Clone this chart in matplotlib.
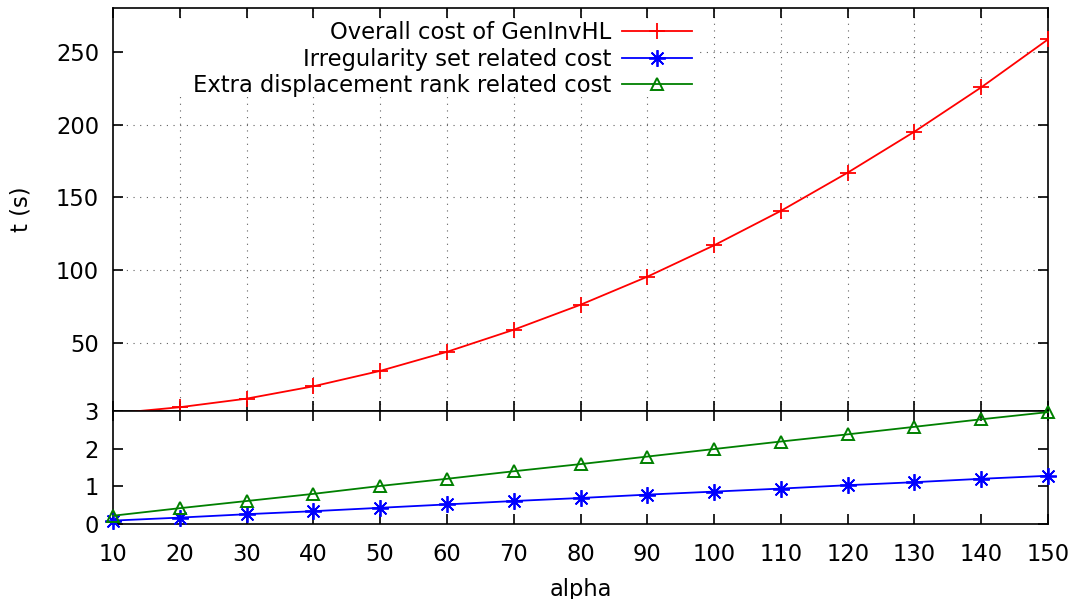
import numpy as np
import matplotlib
matplotlib.use("Agg")
import matplotlib.pyplot as plt
from matplotlib.patches import Rectangle

# data
alpha = [10, 20, 30, 40, 50, 60, 70, 80, 90, 100, 110, 120, 130, 140, 150]
overall = [1.3, 5.6, 11.5, 20.0, 30.6, 43.7, 58.9, 76.1, 95.4, 117.0, 140.7, 167.0, 195.2, 225.7, 258.7]
irregular = [0.09, 0.17, 0.26, 0.34, 0.43, 0.52, 0.61, 0.69, 0.78, 0.86, 0.94, 1.03, 1.11, 1.20, 1.28]
extra = [0.22, 0.42, 0.61, 0.80, 1.01, 1.20, 1.40, 1.59, 1.79, 1.99, 2.19, 2.38, 2.58, 2.78, 2.97]

labels = ["Overall cost of GenInvHL", "Irregularity set related cost",
          "Extra displacement rank related cost"]
xticks = [10, 20, 30, 40, 50, 60, 70, 80, 90, 100, 110, 120, 130, 140, 150]
top_yticks = [3, 50, 100, 150, 200, 250]
bot_yticks = [0, 1, 2]

FS = 16.3
W, H = 1077, 599
plt.rcParams['font.family'] = ['DejaVu Sans']

fig = plt.figure(figsize=(W / 100, H / 100), dpi=100)
left, right, top, brk, bottom = 113, 1048, 8, 411, 524
ax_top = fig.add_axes([left / W, (H - brk) / H, (right - left) / W, (brk - top) / H])
ax_bot = fig.add_axes([left / W, (H - bottom) / H, (right - left) / W, (bottom - brk) / H])

grid_kw = dict(color='#606060', linewidth=0.8, linestyle=(0, (1, 5)))

for ax in (ax_top, ax_bot):
    ax.set_xlim(10, 150)
    ax.set_xticks(xticks)
    ax.tick_params(direction='in', length=7.2, width=1.2, labelsize=FS,
                   top=True, right=True, bottom=True, left=True)
    for s in ax.spines.values():
        s.set_linewidth(1.2)

# top panel
ax_top.set_ylim(3, 280.3)
ax_top.set_yticks(top_yticks)
ax_top.tick_params(axis='x', labelbottom=False)
ax_top.tick_params(axis='y', pad=10)
for x in xticks[1:-1]:
    ax_top.axvline(x, zorder=1, **grid_kw)
for y in top_yticks[1:]:
    ax_top.axhline(y, zorder=1, **grid_kw)

# white box behind the legend hides the grid there
ax_top.add_patch(Rectangle((0.012, 0.784), 0.61, 0.973 - 0.784, transform=ax_top.transAxes,
                           facecolor='white', edgecolor='none', zorder=2))

ov = np.array(overall)
l1, = ax_top.plot(alpha, overall, color='#ff0000', lw=1.3, marker='+', ms=11, mew=1.3,
                  markevery=(ov >= 3).tolist(), zorder=3)
l2, = ax_bot.plot(alpha, irregular, color='#0000ff', lw=1.3, marker=(8, 2, 0), ms=12, mew=1.3,
                  zorder=3, clip_on=False)
l3, = ax_bot.plot(alpha, extra, color='#008000', lw=1.3, marker='^', ms=9, mew=1.4,
                  fillstyle='none', zorder=3, clip_on=False)

ax_top.set_ylabel("t (s)", fontsize=FS)
ax_top.yaxis.set_label_coords(-(113 - 33) / 935, 0.5)

# bottom panel
ax_bot.set_ylim(0, 3)
ax_bot.set_yticks(bot_yticks)
ax_bot.tick_params(axis='x', pad=14)
ax_bot.tick_params(axis='y', pad=10)
ax_bot.set_xlabel("alpha", fontsize=FS)
ax_bot.xaxis.set_label_coords(0.5, -(578 - 524) / 113)

leg = ax_top.legend([l1, l2, l3], labels, loc='upper right', bbox_to_anchor=((692 - left) / 935, 0.968),
                    frameon=False, fontsize=FS, markerfirst=False, labelspacing=0.16,
                    handlelength=3.1, handletextpad=0.45, borderpad=0.0, borderaxespad=0.0)
for t in leg.get_texts():
    t.set_ha('right')
leg.set_zorder(4)

fig.savefig("out.png", dpi=100)
